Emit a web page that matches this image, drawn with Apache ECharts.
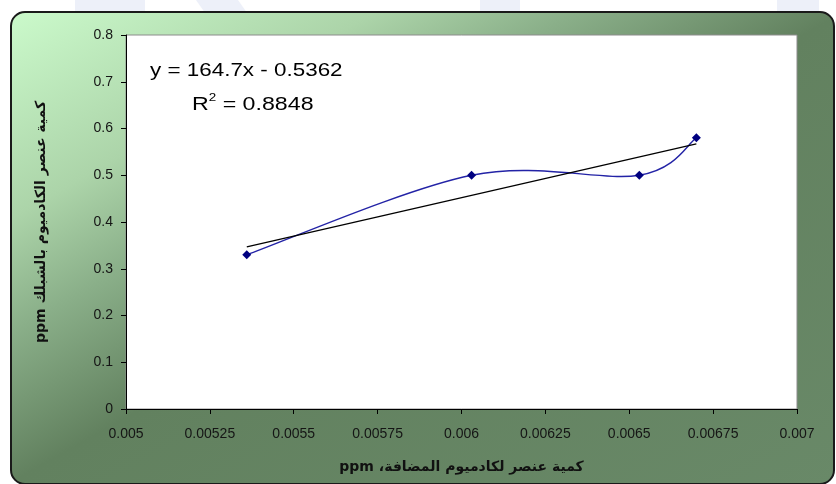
<!DOCTYPE html>
<html>
<head>
<meta charset="utf-8">
<script src="https://cdn.jsdelivr.net/npm/echarts@6/dist/echarts.min.js"></script>
<style>
  html, body { margin: 0; padding: 0; background: #ffffff; }
  #chart { width: 836px; height: 484px; }
</style>
</head>
<body>
<div id="chart"></div>
<script>
// Cadmium recovery: amount added (x) vs. amount found (y), both in ppm
const addedPpm = [0.00536, 0.00603, 0.00653, 0.0067];
const foundPpm = [0.33, 0.50, 0.50, 0.58];

// Linear least-squares fit printed on the chart
const fitSlope = 164.7;
const fitIntercept = -0.5362;
const fitR2 = 0.8848;

// Axis ranges and tick steps
const xRange = [0.005, 0.007];
const xStep = 0.00025;
const yRange = [0, 0.8];
const yStep = 0.1;

// Axis titles (RTL embedding keeps "ppm" on the left side of the Arabic text)
const xTitle = '\u202Bكمية عنصر لكادميوم المضافة، ppm\u202C';
const yTitle = '\u202Bكمية عنصر الكادميوم بالشبلك ppm\u202C';

const measured = addedPpm.map((x, i) => [x, foundPpm[i]]);
const xLo = Math.min(...addedPpm);
const xHi = Math.max(...addedPpm);
const trend = [xLo, xHi].map(x => [x, fitSlope * x + fitIntercept]);

const eqLine = 'y = ' + fitSlope + 'x - ' + Math.abs(fitIntercept);
const r2Value = ' = ' + fitR2;

const tickFont = { color: '#151515', fontSize: 14, fontFamily: 'Liberation Sans, Arial, sans-serif' };
const titleFont = { color: '#111111', fontSize: 14, fontWeight: 'bold', fontFamily: 'DejaVu Sans, Noto Sans, sans-serif' };
const eqFont = 'Liberation Sans, Arial, sans-serif';

// Spreadsheet-style smoothed scatter: one cubic Bezier per segment,
// control points taken from the neighbouring points (tension 1/6).
function renderSmoothSegment(params, api) {
  const i = params.dataIndex;
  const n = measured.length;
  if (i >= n - 1) return null;
  const p = k => api.coord(measured[Math.max(0, Math.min(n - 1, k))]);
  const p0 = p(i - 1), p1 = p(i), p2 = p(i + 1), p3 = p(i + 2);
  return {
    type: 'bezierCurve',
    shape: {
      x1: p1[0], y1: p1[1],
      x2: p2[0], y2: p2[1],
      cpx1: p1[0] + (p2[0] - p0[0]) / 6, cpy1: p1[1] + (p2[1] - p0[1]) / 6,
      cpx2: p2[0] - (p3[0] - p1[0]) / 6, cpy2: p2[1] - (p3[1] - p1[1]) / 6
    },
    style: { stroke: '#2323a6', lineWidth: 1.4, fill: 'none' }
  };
}

const chart = echarts.init(document.getElementById('chart'), null, { renderer: 'canvas' });

chart.setOption({
  animation: false,
  backgroundColor: '#ffffff',
  graphic: [
    // faint page stripes behind the chart frame
    { type: 'rect', z: -20, shape: { x: 75, y: 0, width: 70, height: 20 }, style: { fill: '#edf0f9' } },
    { type: 'polygon', z: -20, shape: { points: [[196, 0], [238, 0], [252, 20], [210, 20]] }, style: { fill: '#edf0f9' } },
    { type: 'rect', z: -20, shape: { x: 480, y: 0, width: 40, height: 20 }, style: { fill: '#edf0f9' } },
    { type: 'rect', z: -20, shape: { x: 777, y: 0, width: 42, height: 20 }, style: { fill: '#edf0f9' } },
    // rounded chart frame with diagonal green gradient
    {
      type: 'rect', z: -10,
      shape: { x: 11, y: 12, width: 823, height: 472, r: 14 },
      style: {
        fill: new echarts.graphic.LinearGradient(0, 0, 0.49, 1.51, [
          { offset: 0, color: '#cbfacb' },
          { offset: 0.22, color: '#acd4a9' },
          { offset: 0.34, color: '#8aaf89' },
          { offset: 0.5, color: '#62815f' },
          { offset: 1, color: '#698968' }
        ]),
        stroke: '#1a1a1a',
        lineWidth: 2
      }
    },
    // regression equation and coefficient of determination
    {
      type: 'text', z: 100, x: 150, y: 61, scaleX: 1.18,
      style: { text: eqLine, fill: '#000000', fontSize: 19, fontFamily: eqFont }
    },
    {
      type: 'text', z: 100, x: 192, y: 92, scaleX: 1.22,
      style: {
        text: '{b|R}{s|2}{b|' + r2Value + '}',
        rich: {
          b: { fontSize: 19, fill: '#000000', fontFamily: eqFont, verticalAlign: 'bottom', lineHeight: 22 },
          s: { fontSize: 11, fill: '#000000', fontFamily: eqFont, verticalAlign: 'top', lineHeight: 22 }
        }
      }
    }
  ],
  grid: {
    left: 126, right: 39, top: 35, bottom: 75,
    show: true, backgroundColor: '#ffffff', borderColor: '#8c8c8c', borderWidth: 1
  },
  xAxis: {
    type: 'value',
    min: xRange[0], max: xRange[1], interval: xStep,
    axisLine: { show: true, onZero: false, lineStyle: { color: '#000000', width: 1 } },
    axisTick: { show: true, length: 5, lineStyle: { color: '#000000' } },
    axisLabel: Object.assign({ margin: 18, formatter: v => String(+v.toFixed(5)) }, tickFont),
    splitLine: { show: false },
    name: xTitle, nameLocation: 'middle', nameGap: 51,
    nameTextStyle: titleFont
  },
  yAxis: {
    type: 'value',
    min: yRange[0], max: yRange[1], interval: yStep,
    axisLine: { show: true, onZero: false, lineStyle: { color: '#000000', width: 1 } },
    axisTick: { show: true, length: 5, lineStyle: { color: '#000000' } },
    axisLabel: Object.assign({ margin: 13, formatter: v => String(+v.toFixed(1)) }, tickFont),
    splitLine: { show: false },
    name: yTitle, nameLocation: 'middle', nameGap: 78, nameRotate: 90,
    nameTextStyle: titleFont
  },
  series: [
    {
      name: 'measured curve', type: 'custom', data: measured,
      encode: { x: 0, y: 1 },
      renderItem: renderSmoothSegment,
      z: 2
    },
    {
      name: 'measured', type: 'line', data: measured,
      symbol: 'diamond', symbolSize: 9,
      lineStyle: { opacity: 0 },
      itemStyle: { color: '#000080' },
      z: 3
    },
    {
      name: 'linear fit', type: 'line', data: trend,
      symbol: 'none',
      lineStyle: { color: '#000000', width: 1.3 },
      z: 4
    }
  ]
});
</script>
</body>
</html>
